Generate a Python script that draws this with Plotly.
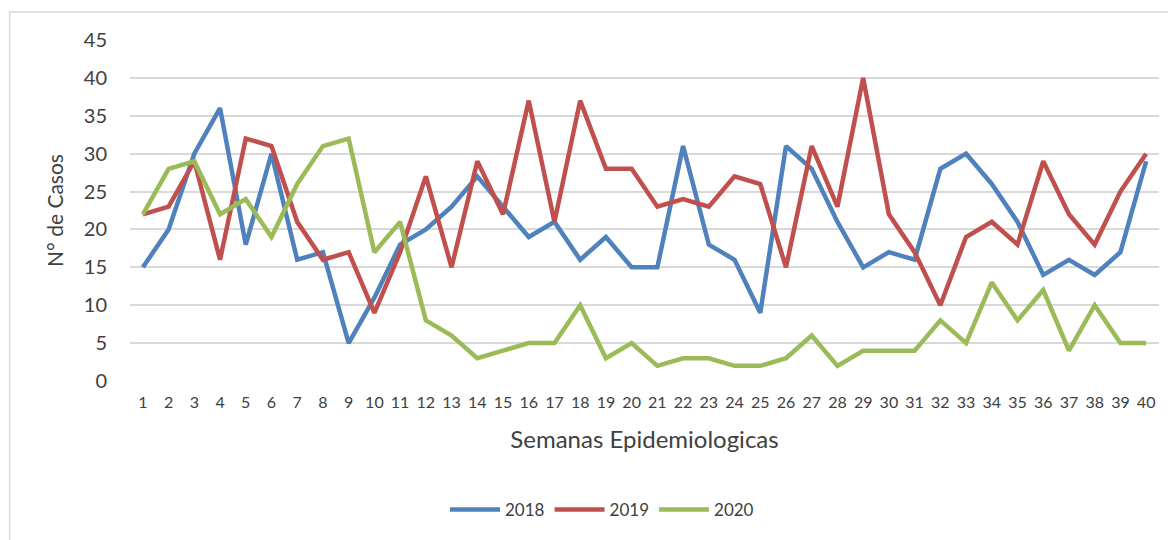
import plotly.graph_objects as go

semanas = list(range(1, 41))
casos_2018 = [15, 20, 30, 36, 18, 30, 16, 17, 5, 11, 18, 20, 23, 27, 23, 19, 21, 16, 19, 15,
              15, 31, 18, 16, 9, 31, 28, 21, 15, 17, 16, 28, 30, 26, 21, 14, 16, 14, 17, 29]
casos_2019 = [22, 23, 29, 16, 32, 31, 21, 16, 17, 9, 17, 27, 15, 29, 22, 37, 21, 37, 28, 28,
              23, 24, 23, 27, 26, 15, 31, 23, 40, 22, 17, 10, 19, 21, 18, 29, 22, 18, 25, 30]
casos_2020 = [22, 28, 29, 22, 24, 19, 26, 31, 32, 17, 21, 8, 6, 3, 4, 5, 5, 10, 3, 5,
              2, 3, 3, 2, 2, 3, 6, 2, 4, 4, 4, 8, 5, 13, 8, 12, 4, 10, 5, 5]
series_names = ["2018", "2019", "2020"]
colors = ["#4f81bd", "#c0504d", "#9bbb59"]
y_ticks = list(range(0, 50, 5))

fig = go.Figure()
for name, vals, col in zip(series_names, [casos_2018, casos_2019, casos_2020], colors):
    fig.add_trace(go.Scatter(x=semanas, y=vals, name=name, mode="lines",
                             line=dict(color=col, width=4.5)))

font_fam = "Lato, 'Open Sans', sans-serif"
fig.update_layout(
    width=1168, height=532,
    margin=dict(l=122, r=17, t=32, b=159),
    paper_bgcolor="white", plot_bgcolor="white",
    font=dict(family=font_fam, color="#404040"),
    showlegend=True,
    legend=dict(orientation="h", x=0.4587, xanchor="center", y=-0.378, yanchor="middle",
                font=dict(size=17, color="#404040"), itemwidth=50),
    xaxis=dict(range=[0.5, 40.5], tickmode="array", tickvals=semanas,
               ticktext=[str(s) for s in semanas], tickfont=dict(size=16),
               showgrid=False, zeroline=False, showline=False,
               ticklabelstandoff=10,
               title=dict(text="Semanas Epidemiologicas", font=dict(size=24), standoff=21)),
    yaxis=dict(range=[0, 45], tickvals=y_ticks, tickfont=dict(size=20),
               showgrid=True, gridcolor="#d9d9d9", gridwidth=1.5, zeroline=False,
               ticklabelstandoff=22,
               title=dict(text="N° de Casos", font=dict(size=21), standoff=14)),
)
fig.add_shape(type="rect", xref="paper", yref="paper",
              x0=-0.117, x1=1.05, y0=-0.7, y1=1.082,
              line=dict(color="#d9d9d9", width=1.5), fillcolor="rgba(0,0,0,0)", layer="below")
fig.write_html("out.html")
